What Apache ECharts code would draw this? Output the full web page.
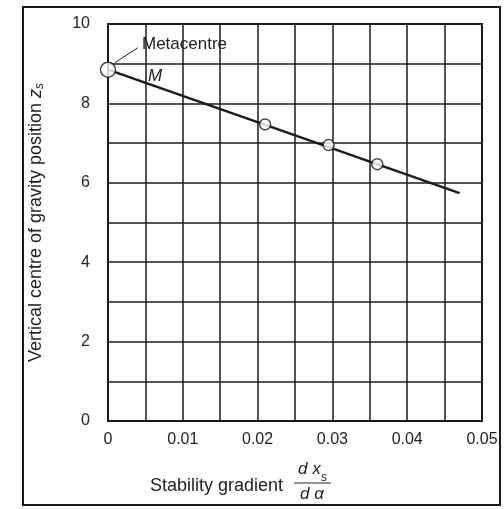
<!DOCTYPE html>
<html><head><meta charset="utf-8">
<script src="https://cdn.jsdelivr.net/npm/echarts@6/dist/echarts.min.js"></script>
<style>html,body{margin:0;padding:0;background:#fff}#c{width:504px;height:509px}</style>
</head><body><div id="c"></div>
<script>
// Data
var linePoints = [[0, 8.85], [0.047, 5.74]];
var measuredX = [0.021, 0.0295, 0.036];
var measuredY = [7.47, 6.95, 6.47];
var metacentre = [0, 8.85];
var xTicks = ['0', '0.01', '0.02', '0.03', '0.04', '0.05'];
var yTicks = ['0', '2', '4', '6', '8', '10'];

var FONT = 'Liberation Sans, Arial, sans-serif';
var INK = '#1a1a1a';
var TXT = '#222';
var chart = echarts.init(document.getElementById('c'), null, {renderer: 'canvas'});

var measured = measuredX.map(function (x, i) { return [x, measuredY[i]]; });

var option = {
  backgroundColor: '#fff',
  animation: false,
  grid: {left: 108, right: 22, top: 24, bottom: 88, show: true, borderColor: INK, borderWidth: 2, backgroundColor: 'transparent'},
  xAxis: {
    type: 'value', min: 0, max: 0.05, interval: 0.005,
    axisLine: {show: true, lineStyle: {color: INK, width: 2}},
    axisTick: {show: false},
    splitLine: {show: true, lineStyle: {color: INK, width: 1.5}},
    axisLabel: {
      color: TXT, fontFamily: FONT, fontSize: 16, margin: 11,
      formatter: function (v) {
        var k = Math.round(v * 1000);
        if (k % 10 !== 0) return '';
        return xTicks[k / 10];
      }
    }
  },
  yAxis: {
    type: 'value', min: 0, max: 10, interval: 1,
    axisLine: {show: true, lineStyle: {color: INK, width: 2}},
    axisTick: {show: false},
    splitLine: {show: true, lineStyle: {color: INK, width: 1.5}},
    axisLabel: {
      color: TXT, fontFamily: FONT, fontSize: 16, margin: 18,
      formatter: function (v) {
        var k = Math.round(v);
        if (k % 2 !== 0) return '';
        return yTicks[k / 2];
      }
    },
    name: 'Vertical centre of gravity position {i|z}{s|s}',
    nameLocation: 'middle', nameGap: 62, nameRotate: 90,
    nameTextStyle: {
      color: TXT, fontFamily: FONT, fontSize: 18,
      rich: {
        i: {fontFamily: FONT, fontSize: 18, fontStyle: 'italic', color: TXT},
        s: {fontFamily: FONT, fontSize: 12, fontStyle: 'italic', color: TXT, verticalAlign: 'bottom', padding: [8, 0, 0, 0]}
      }
    }
  },
  series: [
    {type: 'line', data: linePoints, showSymbol: false, lineStyle: {color: INK, width: 2.5}, z: 3},
    {type: 'scatter', data: measured, symbol: 'circle', symbolSize: 11,
     itemStyle: {color: '#fff', borderColor: INK, borderWidth: 1.5}, z: 5},
    {type: 'scatter', data: [metacentre], symbol: 'circle', symbolSize: 15,
     itemStyle: {color: '#fff', borderColor: INK, borderWidth: 1.5}, z: 5}
  ]
};
chart.setOption(option);

var p = chart.convertToPixel({gridIndex: 0}, metacentre);
chart.setOption({
  graphic: [
    {type: 'rect', shape: {x: 23, y: 7, width: 477, height: 498}, style: {fill: 'none', stroke: INK, lineWidth: 2}, silent: true},
    {type: 'line', shape: {x1: p[0] + 7, y1: p[1] - 7, x2: p[0] + 30, y2: p[1] - 22}, style: {stroke: INK, lineWidth: 1}},
    {type: 'text', left: p[0] + 34, top: p[1] - 34, style: {text: 'Metacentre', font: '17px ' + FONT, fill: TXT}},
    {type: 'text', left: p[0] + 40, top: p[1] - 2, style: {text: 'M', font: 'italic 17px ' + FONT, fill: TXT}},
    {type: 'text', left: 150, top: 477, style: {text: 'Stability gradient', font: '18px ' + FONT, fill: TXT}},
    {type: 'text', left: 298, top: 461, style: {text: 'd x', font: 'italic 17px ' + FONT, fill: TXT}},
    {type: 'text', left: 321, top: 472, style: {text: 's', font: 'italic 12px ' + FONT, fill: TXT}},
    {type: 'line', shape: {x1: 294, y1: 483, x2: 331, y2: 483}, style: {stroke: TXT, lineWidth: 1}},
    {type: 'text', left: 300, top: 486, style: {text: 'd α', font: 'italic 17px ' + FONT, fill: TXT}}
  ]
});
</script></body></html>
